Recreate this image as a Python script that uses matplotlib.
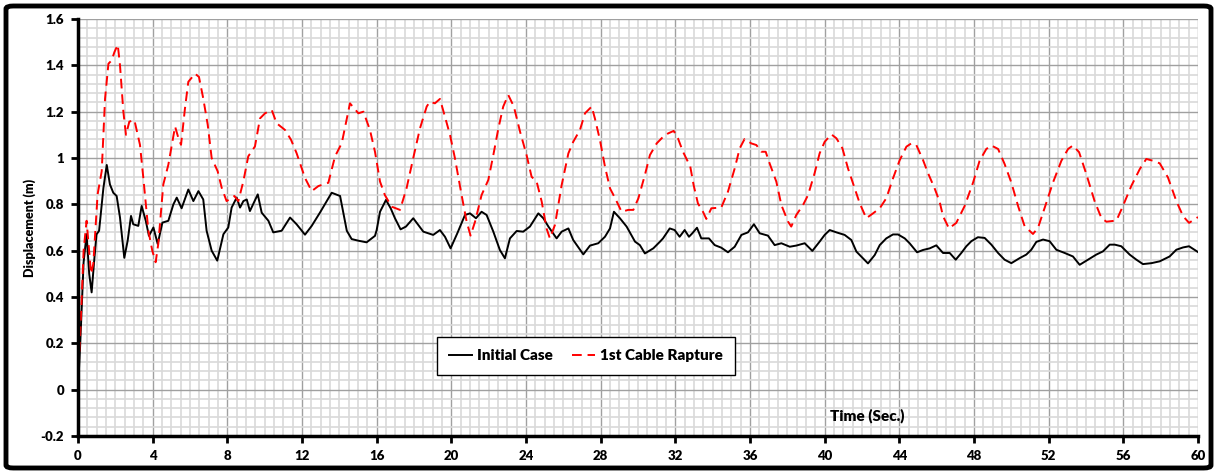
import numpy as np
import matplotlib.pyplot as plt
from matplotlib.patches import FancyBboxPatch
from matplotlib.ticker import MultipleLocator

# time (sec) and displacement (m)
t_initial = [0.0, 0.12, 0.3, 0.46, 0.6, 0.73, 0.86, 0.99, 1.13, 1.36, 1.54, 1.71, 1.89, 2.07,
             2.25, 2.48, 2.66, 2.84, 2.96, 3.23, 3.41, 3.63, 3.8, 4.04, 4.27, 4.52, 4.84,
             5.11, 5.29, 5.55, 5.91, 6.18, 6.45, 6.71, 6.89, 7.16, 7.46, 7.79, 8.05, 8.23,
             8.5, 8.68, 8.86, 9.04, 9.21, 9.63, 9.84, 10.2, 10.46, 10.91, 11.36, 11.71,
             12.16, 12.52, 12.96, 13.59, 14.04, 14.4, 14.66, 15.02, 15.46, 15.91,
             16.0, 16.18, 16.5, 16.75, 16.98, 17.28, 17.57, 17.96, 18.23, 18.5, 19.03,
             19.39, 19.66, 19.96, 20.32, 20.73, 21.0, 21.32, 21.62, 21.89, 22.25, 22.6,
             22.87, 23.14, 23.5, 23.85, 24.21, 24.66, 24.93, 25.2, 25.64, 25.91, 26.27,
             26.53, 27.07, 27.43, 27.87, 28.23, 28.5, 28.71, 29.03, 29.39, 29.84, 30.1,
             30.37, 30.82, 31.18, 31.34, 31.7, 31.96, 32.23, 32.5, 32.73, 32.91, 33.16,
             33.39, 33.8, 34.11, 34.46, 34.82, 35.18, 35.54, 35.89, 36.21, 36.52, 36.96,
             37.32, 37.68, 38.13, 38.48, 38.93, 39.34, 39.73, 40.0, 40.27, 40.63, 41.07,
             41.43, 41.7, 42.05, 42.32, 42.68, 42.95, 43.3, 43.66, 43.93, 44.29, 44.55,
             44.95, 45.27, 45.63, 45.98, 46.34, 46.7, 47.02, 47.32, 47.59, 47.86, 48.21,
             48.57, 48.93, 49.29, 49.64, 50.0, 50.45, 50.8, 51.07, 51.34, 51.7, 52.05,
             52.41, 52.86, 53.3, 53.66, 54.11, 54.55, 54.91, 55.27, 55.54, 55.89, 56.34,
             56.7, 57.05, 57.5, 57.95, 58.48, 58.84, 59.2, 59.52, 60.0]
d_initial = [0.0, 0.2, 0.55, 0.671, 0.5, 0.42, 0.55, 0.67, 0.686, 0.87, 0.97, 0.886, 0.85, 0.836,
             0.743, 0.569, 0.643, 0.75, 0.714, 0.707, 0.793, 0.729, 0.664, 0.7, 0.629, 0.721,
             0.729, 0.8, 0.829, 0.783, 0.864, 0.814, 0.857, 0.821, 0.686, 0.6, 0.557, 0.671,
             0.7, 0.786, 0.829, 0.786, 0.814, 0.821, 0.771, 0.843, 0.764, 0.729, 0.679, 0.686,
             0.743, 0.714, 0.669, 0.707, 0.764, 0.85, 0.836, 0.686, 0.65, 0.643, 0.636, 0.664,
             0.689, 0.768, 0.819, 0.783, 0.74, 0.692, 0.704, 0.74, 0.711, 0.682, 0.668,
             0.689, 0.66, 0.61, 0.675, 0.754, 0.761, 0.74, 0.768, 0.754, 0.682, 0.603,
             0.567, 0.653, 0.685, 0.682, 0.704, 0.761, 0.74, 0.704, 0.653, 0.682, 0.696,
             0.646, 0.584, 0.622, 0.632, 0.66, 0.696, 0.768, 0.74, 0.704, 0.639, 0.624,
             0.588, 0.61, 0.639, 0.653, 0.696, 0.689, 0.66, 0.689, 0.66, 0.675, 0.699,
             0.653, 0.653, 0.624, 0.613, 0.593, 0.617, 0.668, 0.679, 0.714, 0.675, 0.665,
             0.624, 0.632, 0.617, 0.622, 0.632, 0.599, 0.639, 0.668, 0.689, 0.679, 0.668,
             0.646, 0.596, 0.567, 0.545, 0.581, 0.624, 0.653, 0.67, 0.67, 0.653, 0.632,
             0.593, 0.603, 0.61, 0.623, 0.59, 0.59, 0.561, 0.59, 0.619, 0.641, 0.658,
             0.655, 0.626, 0.59, 0.561, 0.546, 0.568, 0.583, 0.604, 0.638, 0.648, 0.641,
             0.604, 0.59, 0.575, 0.539, 0.561, 0.583, 0.597, 0.626, 0.626, 0.619, 0.583,
             0.561, 0.542, 0.546, 0.554, 0.575, 0.604, 0.614, 0.619, 0.594]

t_rapture = [0.0, 0.15, 0.3, 0.46, 0.7, 0.82, 1.05, 1.27, 1.45, 1.63, 1.8, 1.95, 2.13, 2.25,
             2.43, 2.57, 2.75, 3.02, 3.32, 3.5, 3.77, 3.98, 4.16, 4.3, 4.57, 4.84, 5.2, 5.38,
             5.52, 5.73, 5.91, 6.27, 6.48, 6.71, 6.95, 7.16, 7.48, 7.7, 7.96, 8.38, 8.59,
             8.86, 9.12, 9.48, 9.75, 10.02, 10.38, 10.64, 11.09, 11.41, 11.71, 12.16, 12.52,
             12.88, 13.41, 13.77, 14.13, 14.57, 15.02, 15.29, 15.64, 15.91, 16.18, 16.44,
             16.8, 17.25, 17.6, 17.96, 18.32, 18.68, 18.85, 19.12, 19.39, 19.66, 19.93,
             20.19, 20.55, 20.82, 21.03, 21.27, 21.62, 21.98, 22.25, 22.52, 22.78, 23.05,
             23.35, 23.68, 24.03, 24.3, 24.57, 24.84, 25.1, 25.28, 25.55, 25.91, 26.27,
             26.53, 26.89, 27.16, 27.52, 27.69, 27.96, 28.23, 28.5, 28.82, 29.12, 29.48,
             29.75, 30.02, 30.37, 30.64, 31.0, 31.35, 31.61, 31.91, 32.14, 32.41, 32.8,
             32.98, 33.21, 33.48, 33.66, 33.93, 34.46, 34.82, 35.18, 35.45, 35.71, 36.07,
             36.34, 36.61, 36.84, 37.05, 37.41, 37.68, 38.04, 38.21, 38.48, 38.84, 39.11,
             39.46, 39.73, 40.0, 40.36, 40.63, 40.95, 41.25, 41.61, 41.88, 42.23, 42.59,
             42.95, 43.3, 43.66, 44.02, 44.38, 44.64, 44.91, 45.27, 45.54, 45.89, 46.16,
             46.34, 46.66, 47.05, 47.5, 47.95, 48.3, 48.66, 48.93, 49.29, 49.64, 50.0,
             50.36, 50.71, 51.16, 51.43, 51.79, 52.23, 52.68, 53.04, 53.3, 53.63, 54.02,
             54.46, 54.82, 55.09, 55.63, 55.98, 56.43, 56.88, 57.23, 57.59, 57.95, 58.39,
             58.84, 59.2, 59.52, 60.0]
d_rapture = [0.03, 0.3, 0.6, 0.729, 0.5, 0.543, 0.843, 0.943, 1.257, 1.407, 1.421, 1.457, 1.489,
             1.4, 1.2, 1.1, 1.157, 1.164, 1.057, 0.914, 0.686, 0.6, 0.55, 0.629, 0.886, 0.971,
             1.136, 1.086, 1.057, 1.214, 1.329, 1.364, 1.35, 1.257, 1.143, 1.0, 0.943, 0.871,
             0.814, 0.836, 0.814, 0.9, 1.007, 1.05, 1.171, 1.193, 1.207, 1.15, 1.121, 1.079,
             1.021, 0.914, 0.857, 0.879, 0.893, 1.007, 1.064, 1.236, 1.193, 1.2, 1.121,
             1.027, 0.898, 0.84, 0.79, 0.776, 0.869, 1.0, 1.128, 1.222, 1.243, 1.236, 1.255,
             1.178, 1.099, 1.0, 0.84, 0.725, 0.665, 0.725, 0.84, 0.905, 1.013, 1.128, 1.222,
             1.272, 1.222, 1.114, 1.013, 0.919, 0.898, 0.812, 0.696, 0.653, 0.711, 0.883,
             1.02, 1.07, 1.121, 1.193, 1.222, 1.171, 1.078, 0.963, 0.869, 0.819, 0.768,
             0.776, 0.776, 0.826, 0.927, 1.013, 1.063, 1.092, 1.106, 1.117, 1.085, 1.027,
             0.963, 0.883, 0.804, 0.768, 0.737, 0.783, 0.786, 0.855, 0.955, 1.042, 1.082,
             1.063, 1.056, 1.027, 1.027, 0.977, 0.898, 0.797, 0.725, 0.704, 0.754, 0.797,
             0.84, 0.934, 1.02, 1.07, 1.102, 1.085, 1.042, 0.955, 0.869, 0.804, 0.74, 0.761,
             0.783, 0.826, 0.912, 0.991, 1.049, 1.063, 1.056, 0.991, 0.934, 0.869, 0.811,
             0.749, 0.696, 0.72, 0.793, 0.894, 0.988, 1.039, 1.054, 1.039, 0.974, 0.894,
             0.793, 0.706, 0.672, 0.699, 0.786, 0.894, 0.988, 1.039, 1.054, 1.025, 0.93,
             0.814, 0.742, 0.725, 0.73, 0.793, 0.88, 0.952, 0.996, 0.988, 0.977, 0.916,
             0.814, 0.749, 0.72, 0.745]

x_ticks = np.arange(0, 61, 4)
y_ticks = [-0.2, 0, 0.2, 0.4, 0.6, 0.8, 1, 1.2, 1.4, 1.6]
y_tick_labels = ['-0.2', '0', '0.2', '0.4', '0.6', '0.8', '1', '1.2', '1.4', '1.6']

plt.rcParams['font.family'] = ['Lato', 'DejaVu Sans']
plt.rcParams['font.weight'] = 'bold'

fig = plt.figure(figsize=(12.17, 4.73), dpi=100)
ax = fig.add_axes([78 / 1217, 1 - 436 / 473, 1120 / 1217, 417 / 473])

ax.plot(t_initial, d_initial, color='black', lw=1.4, label='Initial Case', zorder=3)
ax.plot(t_rapture, d_rapture, color='#ff0000', lw=1.4, dashes=(5, 3),
        label='1st Cable Rapture', zorder=3)

ax.set_xlim(0, 60)
ax.set_ylim(-0.2, 1.6)
ax.set_xticks(x_ticks)
ax.set_xticklabels([str(v) for v in x_ticks])
ax.set_yticks(y_ticks)
ax.set_yticklabels(y_tick_labels)
ax.xaxis.set_minor_locator(MultipleLocator(0.5))
ax.yaxis.set_minor_locator(MultipleLocator(0.04))

# graph paper look
ax.grid(which='minor', color='#d9d9d9', lw=1.2, zorder=0)
ax.grid(which='major', color='#a0a0a0', lw=1.0, zorder=1)
ax.set_axisbelow(True)

for s in ['top', 'right']:
    ax.spines[s].set_visible(False)
for s in ['left', 'bottom']:
    ax.spines[s].set_linewidth(2.5)
    ax.spines[s].set_zorder(4)
ax.tick_params(which='major', direction='out', length=5, width=2, labelsize=9.5, pad=5)
ax.tick_params(which='minor', length=0)
for lab in ax.get_xticklabels() + ax.get_yticklabels():
    lab.set_fontweight('heavy')

ax.text(0.705, 0.049, 'Time (Sec.)', transform=ax.transAxes, ha='center', va='center',
        fontsize=11, fontweight='heavy')
fig.text(30 / 1217, 1 - 228 / 473, 'Displacement (m)', rotation=90, ha='center',
         va='center', fontsize=9, fontweight='heavy')

leg = ax.legend(loc='center', bbox_to_anchor=((586 - 78) / 1120, (436 - 356) / 417),
                ncol=2, frameon=True, fancybox=False, handlelength=1.5,
                handletextpad=0.3, columnspacing=1.3, borderpad=0.8,
                prop={'weight': 'heavy', 'size': 11})
leg.get_frame().set_edgecolor('black')
leg.get_frame().set_linewidth(1.0)
leg.get_frame().set_alpha(1)

# rounded black frame around the whole chart
fig.patches.append(FancyBboxPatch((6 / 1217, 5 / 473), 1205 / 1217, 462 / 473,
                                  boxstyle='round,pad=0,rounding_size=0.006',
                                  transform=fig.transFigure, fill=False,
                                  edgecolor='black', lw=3.5))

fig.savefig('out.png', dpi=100)
